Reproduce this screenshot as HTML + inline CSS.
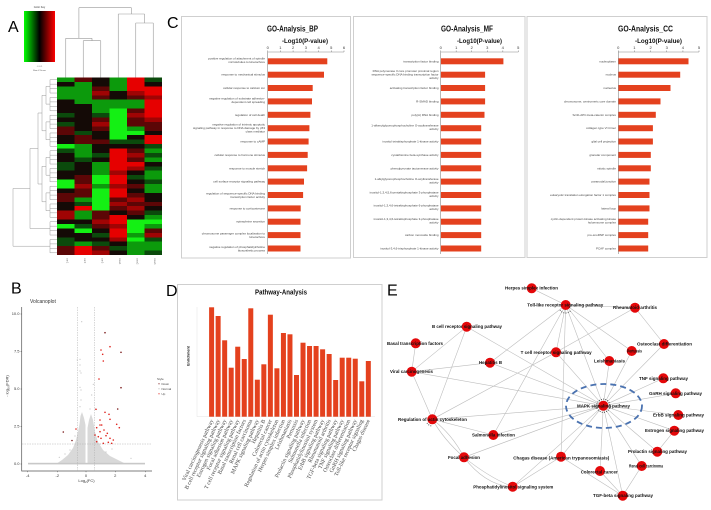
<!DOCTYPE html>
<html><head><meta charset="utf-8"><style>
html,body{margin:0;padding:0;background:#fff}
svg{display:block}
.gl{font-family:"Liberation Sans",sans-serif;font-size:3px;fill:#444;text-anchor:end}
.tk{font-family:"Liberation Sans",sans-serif;font-size:4px;fill:#333;text-anchor:middle}
.bt{font-family:"Liberation Sans",sans-serif;font-weight:bold;fill:#111;text-anchor:middle}
.big{font-family:"Liberation Sans",sans-serif;font-size:16px;fill:#000}
.nl{font-family:"Liberation Sans",sans-serif;font-weight:bold;font-size:4.4px;fill:#111}
.dl{font-family:"Liberation Serif",serif;font-size:5.7px;fill:#444;text-anchor:end}
.G{fill:#14f014}.g{fill:#0c9a0c}.d{fill:#0b4a0c}.r{fill:#5c0606}.M{fill:#a00404}.R{fill:#e60000}
</style></head><body>
<svg width="711" height="510" viewBox="0 0 711 510" xmlns="http://www.w3.org/2000/svg">
<defs>
<linearGradient id="ck" x1="0" x2="1" y1="0" y2="0"><stop offset="0" stop-color="#00ff00"/><stop offset="0.5" stop-color="#000"/><stop offset="1" stop-color="#ff0000"/></linearGradient>
<pattern id="lv" x="50" y="77.5" width="8" height="4.4375" patternUnits="userSpaceOnUse"><line x1="0" x2="8" y1="2.22" y2="2.22" stroke="#999" stroke-width="0.5"/></pattern>
</defs>
<rect width="711" height="510" fill="#fff"/>

<!-- ===== Panel A ===== -->
<text class="big" x="8" y="32">A</text>
<text x="39.5" y="8" font-family="Liberation Sans" font-size="2.6" text-anchor="middle" fill="#333">Color Key</text>
<rect x="24" y="11" width="31" height="51" fill="url(#ck)"/>
<text x="39.5" y="67" font-family="Liberation Sans" font-size="2.2" text-anchor="middle" fill="#555">-1   0   1</text>
<text x="39.5" y="71" font-family="Liberation Sans" font-size="2.2" text-anchor="middle" fill="#555">Row Z-Score</text>
<path d="M65.75 77.5V38.3M83.25 77.5V40.7M100.75 77.5V40.7M83.25 40.7H100.75M92 40.7V38.3M65.75 38.3H92M78.9 38.3V7.7M135.75 77.5V23M153.25 77.5V23M135.75 23H153.25M144.5 23V14M118.25 77.5V14M118.25 14H144.5M131.4 14V7.7M78.9 7.7H131.4" stroke="#999" stroke-width="0.6" fill="none"/>
<rect x="50" y="77.5" width="7" height="177.5" fill="url(#lv)"/>
<path d="M50 79.7V93M50 97.5V110.8M50 115.2V128.6M50 133V146.3M50 150.8V164.1M50 168.5V181.9M50 186.3V199.6M50 204.1V217.4M50 221.8V235.2M50 239.6V252.9M46 86.4H50M46 104.1H50M46 121.9H50M46 139.7H50M46 157.4H50M46 175.2H50M46 192.9H50M46 210.7H50M30 228.5H50M13 246.2H50M46 86.4V104.1M46 121.9V139.7M46 157.4V175.2M46 192.9V210.7M42 95.3H46M42 130.8H46M42 166.3H46M42 201.8H46M42 95.3V130.8M42 166.3V201.8M38 113H42M38 184H42M38 113V184M30 148.5H38M30 148.5V228.5M13 188.5H30M13 188.5V246.2" stroke="#999" stroke-width="0.5" fill="none"/>
<rect x="57" y="77.5" width="105" height="177.5" fill="#140a06"/>
<g transform="translate(57,77.5) scale(17.5,4.4375)" shape-rendering="crispEdges">
<g>
<rect class="g" x="0" y="0" width="1" height="1"/><rect class="g" x="0" y="2" width="1" height="3"/><rect class="d" x="0" y="8" width="1" height="1"/><rect class="d" x="0" y="10" width="1" height="1"/><rect class="r" x="0" y="11" width="1" height="2"/><rect class="G" x="0" y="15" width="1" height="1"/><rect class="d" x="0" y="16" width="1" height="1"/><rect class="d" x="0" y="19" width="1" height="2"/><rect class="G" x="0" y="23" width="1" height="2"/><rect class="r" x="0" y="26" width="1" height="2"/><rect class="M" x="0" y="30" width="1" height="2"/><rect class="G" x="0" y="33" width="1" height="1"/><rect class="d" x="0" y="36" width="1" height="2"/><rect class="r" x="0" y="38" width="1" height="2"/>
</g>
<g transform="translate(1,0)">
<rect class="r" x="0" y="0" width="1" height="1"/><rect class="g" x="0" y="1" width="1" height="5"/><rect class="d" x="0" y="12" width="1" height="1"/><rect class="r" x="0" y="13" width="1" height="2"/><rect class="g" x="0" y="15" width="1" height="3"/><rect class="d" x="0" y="18" width="1" height="1"/><rect class="r" x="0" y="22" width="1" height="2"/><rect class="M" x="0" y="24" width="1" height="1"/><rect class="r" x="0" y="25" width="1" height="2"/><rect class="g" x="0" y="27" width="1" height="1"/><rect class="d" x="0" y="28" width="1" height="1"/><rect class="R" x="0" y="29" width="1" height="1"/><rect class="g" x="0" y="30" width="1" height="2"/><rect class="d" x="0" y="33" width="1" height="1"/><rect class="G" x="0" y="34" width="1" height="1"/><rect class="g" x="0" y="37" width="1" height="1"/><rect class="R" x="0" y="38" width="1" height="2"/>
</g>
<g transform="translate(2,0)">
<rect class="r" x="0" y="2" width="1" height="1"/><rect class="M" x="0" y="3" width="1" height="1"/><rect class="r" x="0" y="4" width="1" height="1"/><rect class="g" x="0" y="5" width="1" height="3"/><rect class="d" x="0" y="8" width="1" height="1"/><rect class="r" x="0" y="9" width="1" height="1"/><rect class="M" x="0" y="10" width="1" height="1"/><rect class="r" x="0" y="11" width="1" height="1"/><rect class="r" x="0" y="14" width="1" height="1"/><rect class="d" x="0" y="17" width="1" height="1"/><rect class="g" x="0" y="19" width="1" height="3"/><rect class="G" x="0" y="22" width="1" height="2"/><rect class="g" x="0" y="24" width="1" height="1"/><rect class="G" x="0" y="25" width="1" height="5"/><rect class="r" x="0" y="30" width="1" height="2"/><rect class="M" x="0" y="32" width="1" height="1"/><rect class="r" x="0" y="33" width="1" height="1"/><rect class="d" x="0" y="35" width="1" height="1"/><rect class="d" x="0" y="37" width="1" height="1"/><rect class="r" x="0" y="38" width="1" height="1"/><rect class="M" x="0" y="39" width="1" height="1"/>
</g>
<g transform="translate(3,0)">
<rect class="g" x="0" y="0" width="1" height="3"/><rect class="g" x="0" y="5" width="1" height="2"/><rect class="G" x="0" y="7" width="1" height="7"/><rect class="d" x="0" y="14" width="1" height="1"/><rect class="R" x="0" y="16" width="1" height="5"/><rect class="M" x="0" y="21" width="1" height="1"/><rect class="R" x="0" y="22" width="1" height="2"/><rect class="M" x="0" y="24" width="1" height="1"/><rect class="R" x="0" y="25" width="1" height="2"/><rect class="r" x="0" y="27" width="1" height="1"/><rect class="M" x="0" y="28" width="1" height="1"/><rect class="r" x="0" y="29" width="1" height="1"/><rect class="R" x="0" y="31" width="1" height="2"/><rect class="M" x="0" y="33" width="1" height="1"/><rect class="R" x="0" y="34" width="1" height="2"/><rect class="M" x="0" y="36" width="1" height="1"/><rect class="d" x="0" y="38" width="1" height="1"/>
</g>
<g transform="translate(4,0)">
<rect class="R" x="0" y="0" width="1" height="3"/><rect class="M" x="0" y="3" width="1" height="1"/><rect class="r" x="0" y="4" width="1" height="1"/><rect class="g" x="0" y="5" width="1" height="2"/><rect class="r" x="0" y="7" width="1" height="1"/><rect class="M" x="0" y="8" width="1" height="1"/><rect class="r" x="0" y="9" width="1" height="2"/><rect class="g" x="0" y="11" width="1" height="1"/><rect class="G" x="0" y="12" width="1" height="1"/><rect class="d" x="0" y="14" width="1" height="1"/><rect class="r" x="0" y="16" width="1" height="1"/><rect class="M" x="0" y="17" width="1" height="1"/><rect class="r" x="0" y="18" width="1" height="1"/><rect class="R" x="0" y="19" width="1" height="1"/><rect class="M" x="0" y="20" width="1" height="1"/><rect class="d" x="0" y="22" width="1" height="1"/><rect class="r" x="0" y="24" width="1" height="1"/><rect class="r" x="0" y="26" width="1" height="1"/><rect class="M" x="0" y="27" width="1" height="1"/><rect class="r" x="0" y="28" width="1" height="1"/><rect class="M" x="0" y="29" width="1" height="1"/><rect class="r" x="0" y="30" width="1" height="1"/><rect class="G" x="0" y="32" width="1" height="3"/><rect class="g" x="0" y="35" width="1" height="1"/><rect class="G" x="0" y="36" width="1" height="1"/><rect class="g" x="0" y="37" width="1" height="3"/>
</g>
<g transform="translate(5,0)">
<rect class="d" x="0" y="0" width="1" height="1"/><rect class="R" x="0" y="2" width="1" height="2"/><rect class="M" x="0" y="4" width="1" height="1"/><rect class="R" x="0" y="5" width="1" height="4"/><rect class="M" x="0" y="9" width="1" height="1"/><rect class="r" x="0" y="10" width="1" height="2"/><rect class="R" x="0" y="13" width="1" height="2"/><rect class="d" x="0" y="15" width="1" height="1"/><rect class="g" x="0" y="16" width="1" height="1"/><rect class="d" x="0" y="17" width="1" height="1"/><rect class="g" x="0" y="18" width="1" height="1"/><rect class="d" x="0" y="20" width="1" height="1"/><rect class="g" x="0" y="21" width="1" height="2"/><rect class="d" x="0" y="23" width="1" height="1"/><rect class="g" x="0" y="24" width="1" height="2"/><rect class="r" x="0" y="28" width="1" height="1"/><rect class="d" x="0" y="30" width="1" height="1"/><rect class="g" x="0" y="31" width="1" height="1"/><rect class="G" x="0" y="32" width="1" height="1"/><rect class="g" x="0" y="33" width="1" height="1"/><rect class="r" x="0" y="34" width="1" height="1"/><rect class="M" x="0" y="35" width="1" height="1"/><rect class="d" x="0" y="36" width="1" height="1"/><rect class="g" x="0" y="37" width="1" height="2"/><rect class="d" x="0" y="39" width="1" height="1"/>
</g>
</g>
<g font-family="Liberation Sans" font-size="2.4" fill="#777">
<text transform="translate(66.5,258) rotate(90)">con1</text>
<text transform="translate(84,258) rotate(90)">con2</text>
<text transform="translate(101.5,258) rotate(90)">con3</text>
<text transform="translate(119,258) rotate(90)">case1</text>
<text transform="translate(136.5,258) rotate(90)">case2</text>
<text transform="translate(154,258) rotate(90)">case3</text>
</g>

<!-- ===== Panel C ===== -->
<text class="big" x="167" y="28">C</text>
<rect x="181.5" y="16.5" width="169" height="241.5" fill="none" stroke="#cfcfcf" stroke-width="1"/>
<rect x="353.5" y="16.5" width="171.5" height="241" fill="none" stroke="#cfcfcf" stroke-width="1"/>
<rect x="527" y="16.5" width="180" height="241" fill="none" stroke="#cfcfcf" stroke-width="1"/>

<text class="bt" x="292.5" y="31.5" font-size="8.5" textLength="51" lengthAdjust="spacingAndGlyphs">GO-Analysis_BP</text>
<text class="bt" x="305" y="42.8" font-size="6" textLength="46" lengthAdjust="spacingAndGlyphs">-Log10(P-value)</text>
<g class="tk"><text x="267.7" y="49">0</text><text x="280.4" y="49">1</text><text x="293.1" y="49">2</text><text x="305.9" y="49">3</text><text x="318.6" y="49">4</text><text x="331.3" y="49">5</text><text x="344" y="49">6</text></g>
<path d="M267.7 52H344M267.7 52V50.5M280.4 52V50.5M293.1 52V50.5M305.9 52V50.5M318.6 52V50.5M331.3 52V50.5M344 52V50.5M267.7 52V254" stroke="#888" stroke-width="0.6" fill="none"/>
<g fill="#e4411e">
<rect x="267.9" y="58.3" width="59.4" height="6"/><rect x="267.9" y="71.7" width="56.1" height="6"/><rect x="267.9" y="85" width="44.8" height="6"/><rect x="267.9" y="98.4" width="44.1" height="6"/><rect x="267.9" y="111.8" width="42.5" height="6"/><rect x="267.9" y="125.2" width="41.5" height="6"/><rect x="267.9" y="138.5" width="40.7" height="6"/><rect x="267.9" y="151.9" width="39.8" height="6"/><rect x="267.9" y="165.3" width="39.2" height="6"/><rect x="267.9" y="178.6" width="36.1" height="6"/><rect x="267.9" y="192" width="35.2" height="6"/><rect x="267.9" y="205.4" width="32.8" height="6"/><rect x="267.9" y="218.7" width="32.6" height="6"/><rect x="267.9" y="232.1" width="32.6" height="6"/><rect x="267.9" y="245.5" width="32.6" height="6"/>
</g>
<g class="gl">
<text x="265" y="59.6">positive regulation of attachment of spindle<tspan x="265" dy="3.5">microtubules to kinetochore</tspan></text>
<text x="265" y="75.7">response to mechanical stimulus</text>
<text x="265" y="89">cellular response to calcium ion</text>
<text x="265" y="99.7">negative regulation of substrate adhesion-<tspan x="265" dy="3.5">dependent cell spreading</tspan></text>
<text x="265" y="115.8">regulation of cell death</text>
<text x="265" y="125.7">negative regulation of intrinsic apoptotic<tspan x="265" dy="3.5">signaling pathway in response to DNA damage by p53</tspan><tspan x="265" dy="3.5">class mediator</tspan></text>
<text x="265" y="142.5">response to cAMP</text>
<text x="265" y="155.9">cellular response to hormone stimulus</text>
<text x="265" y="169.3">response to muscle stretch</text>
<text x="265" y="182.6">cell surface receptor signaling pathway</text>
<text x="265" y="194.3">regulation of sequence-specific DNA binding<tspan x="265" dy="3.5">transcription factor activity</tspan></text>
<text x="265" y="209.4">response to corticosterone</text>
<text x="265" y="222.7">epinephrine secretion</text>
<text x="265" y="234.4">chromosome passenger complex localization to<tspan x="265" dy="3.5">kinetochore</tspan></text>
<text x="265" y="247.8">negative regulation of phosphatidylcholine<tspan x="265" dy="3.5">biosynthetic process</tspan></text>
</g>

<text class="bt" x="467" y="31.5" font-size="8.5" textLength="52" lengthAdjust="spacingAndGlyphs">GO-Analysis_MF</text>
<text class="bt" x="479.5" y="42.8" font-size="6" textLength="45" lengthAdjust="spacingAndGlyphs">-Log10(P-value)</text>
<g class="tk"><text x="440.7" y="49">0</text><text x="456.2" y="49">1</text><text x="471.7" y="49">2</text><text x="487.3" y="49">3</text><text x="502.8" y="49">4</text><text x="518.3" y="49">5</text></g>
<path d="M440.7 52H518.3M440.7 52V50.5M456.2 52V50.5M471.7 52V50.5M487.3 52V50.5M502.8 52V50.5M518.3 52V50.5M440.7 52V254" stroke="#888" stroke-width="0.6" fill="none"/>
<g fill="#e4411e">
<rect x="440.9" y="58.3" width="62.5" height="6"/><rect x="440.9" y="71.7" width="44.2" height="6"/><rect x="440.9" y="85" width="44.2" height="6"/><rect x="440.9" y="98.4" width="44.2" height="6"/><rect x="440.9" y="111.8" width="43.6" height="6"/><rect x="440.9" y="125.2" width="40.3" height="6"/><rect x="440.9" y="138.5" width="40.3" height="6"/><rect x="440.9" y="151.9" width="40.3" height="6"/><rect x="440.9" y="165.3" width="40.3" height="6"/><rect x="440.9" y="178.6" width="40.3" height="6"/><rect x="440.9" y="192" width="40.3" height="6"/><rect x="440.9" y="205.4" width="40.3" height="6"/><rect x="440.9" y="218.7" width="40.3" height="6"/><rect x="440.9" y="232.1" width="40.3" height="6"/><rect x="440.9" y="245.5" width="40.3" height="6"/>
</g>
<g class="gl">
<text x="438.5" y="62.3">transcription factor binding</text>
<text x="438.5" y="72.2">RNA polymerase II core promoter proximal region<tspan x="438.5" dy="3.5">sequence-specific DNA binding transcription factor</tspan><tspan x="438.5" dy="3.5">activity</tspan></text>
<text x="438.5" y="89">activating transcription factor binding</text>
<text x="438.5" y="102.4">R-SMAD binding</text>
<text x="438.5" y="115.8">poly(A) RNA binding</text>
<text x="438.5" y="126.5">1-alkenylglycerophosphocholine O-acyltransferase<tspan x="438.5" dy="3.5">activity</tspan></text>
<text x="438.5" y="142.5">inositol tetrakisphosphate 1-kinase activity</text>
<text x="438.5" y="155.9">cystathionine beta-synthase activity</text>
<text x="438.5" y="169.3">phenylpyruvate tautomerase activity</text>
<text x="438.5" y="179.9">1-alkylglycerophosphocholine O-acyltransferase<tspan x="438.5" dy="3.5">activity</tspan></text>
<text x="438.5" y="193.3">inositol-1,3,4,5,6-pentakisphosphate 3-phosphatase<tspan x="438.5" dy="3.5">activity</tspan></text>
<text x="438.5" y="206.7">inositol-1,3,4,6-tetrakisphosphate 6-phosphatase<tspan x="438.5" dy="3.5">activity</tspan></text>
<text x="438.5" y="220">inositol-1,3,4,6-tetrakisphosphate 3-phosphatase<tspan x="438.5" dy="3.5">activity</tspan></text>
<text x="438.5" y="236.1">carbon monoxide binding</text>
<text x="438.5" y="249.5">inositol-3,4,6-trisphosphate 1-kinase activity</text>
</g>

<text class="bt" x="645.5" y="31.5" font-size="8.5" textLength="55" lengthAdjust="spacingAndGlyphs">GO-Analysis_CC</text>
<text class="bt" x="658.5" y="42.8" font-size="6" textLength="47" lengthAdjust="spacingAndGlyphs">-Log10(P-value)</text>
<g class="tk"><text x="618.3" y="49">0</text><text x="634.4" y="49">1</text><text x="650.6" y="49">2</text><text x="666.7" y="49">3</text><text x="682.9" y="49">4</text><text x="699" y="49">5</text></g>
<path d="M618.3 52H699M618.3 52V50.5M634.4 52V50.5M650.6 52V50.5M666.7 52V50.5M682.9 52V50.5M699 52V50.5M618.3 52V254" stroke="#888" stroke-width="0.6" fill="none"/>
<g fill="#e4411e">
<rect x="618.5" y="58.3" width="70" height="6"/><rect x="618.5" y="71.7" width="61.7" height="6"/><rect x="618.5" y="85" width="52" height="6"/><rect x="618.5" y="98.4" width="42" height="6"/><rect x="618.5" y="111.8" width="37.3" height="6"/><rect x="618.5" y="125.2" width="34.4" height="6"/><rect x="618.5" y="138.5" width="34.4" height="6"/><rect x="618.5" y="151.9" width="32.3" height="6"/><rect x="618.5" y="165.3" width="32.3" height="6"/><rect x="618.5" y="178.6" width="31" height="6"/><rect x="618.5" y="192" width="31" height="6"/><rect x="618.5" y="205.4" width="31" height="6"/><rect x="618.5" y="218.7" width="29.7" height="6"/><rect x="618.5" y="232.1" width="29.7" height="6"/><rect x="618.5" y="245.5" width="29.7" height="6"/>
</g>
<g class="gl">
<text x="616" y="62.3">nucleoplasm</text>
<text x="616" y="75.7">nucleus</text>
<text x="616" y="89">nucleolus</text>
<text x="616" y="102.4">chromosome, centromeric core domain</text>
<text x="616" y="115.8">Scrib-APC-beta-catenin complex</text>
<text x="616" y="129.2">collagen type VI trimer</text>
<text x="616" y="142.5">glial cell projection</text>
<text x="616" y="155.9">granular component</text>
<text x="616" y="169.3">mitotic spindle</text>
<text x="616" y="182.6">paranodal junction</text>
<text x="616" y="196">eukaryotic translation elongation factor 1 complex</text>
<text x="616" y="209.4">lateral loop</text>
<text x="616" y="220">cyclin-dependent protein kinase activating kinase<tspan x="616" dy="3.5">holoenzyme complex</tspan></text>
<text x="616" y="236.1">pre-snoRNP complex</text>
<text x="616" y="249.5">PCAF complex</text>
</g>

<!-- ===== Panel B ===== -->
<text class="big" x="11" y="293.5">B</text>
<text x="30" y="303" font-family="Liberation Sans" font-size="5" fill="#333">Volcanoplot</text>
<path d="M21.7 307V471H152" stroke="#555" stroke-width="0.7" fill="none"/>
<g class="tk" font-size="3.2" style="text-anchor:end">
<text x="19.5" y="315.2">10.0</text><text x="19.5" y="352.7">7.5</text><text x="19.5" y="390.2">5.0</text><text x="19.5" y="427.7">2.5</text><text x="19.5" y="465.2">0.0</text>
</g>
<path d="M21.7 314H20.5M21.7 351.5H20.5M21.7 389H20.5M21.7 426.5H20.5M21.7 464H20.5M27.7 471V472.2M57.3 471V472.2M86 471V472.2M115.3 471V472.2M145.3 471V472.2" stroke="#555" stroke-width="0.5"/>
<g class="tk" font-size="3.2">
<text x="27.7" y="477">-4</text><text x="57.3" y="477">-2</text><text x="86" y="477">0</text><text x="115.3" y="477">2</text><text x="145.3" y="477">4</text>
</g>
<text x="86.5" y="482" class="tk" font-size="3.6">Log<tspan font-size="2.6" dy="0.8">2</tspan><tspan dy="-0.8">(FC)</tspan></text>
<text transform="translate(8.5,386) rotate(-90)" class="tk" font-size="3.6">- log<tspan font-size="2.6" dy="0.8">10</tspan><tspan dy="-0.8">(FDR)</tspan></text>
<polygon points="56,464 62,460 68,455 73,448 76,440 78,432 79.5,424 80.5,416 82,412 84,418 85.5,425 85.5,464" fill="#d9d9d9"/>
<polygon points="87.5,464 87.5,428 89,420 91,414 93,420 95,432 98,442 103,450 110,456 118,460 126,464" fill="#d9d9d9"/>
<rect x="28" y="462.8" width="117" height="1.6" fill="#c8c8c8"/>
<g fill="#c2c2c2">
<circle cx="81.7" cy="321.7" r="0.6"/><circle cx="80" cy="359.3" r="0.6"/><circle cx="77.3" cy="360" r="0.6"/><circle cx="80" cy="365" r="0.6"/><circle cx="80" cy="371" r="0.6"/><circle cx="81" cy="373" r="0.6"/><circle cx="80" cy="387.3" r="0.6"/><circle cx="81" cy="390" r="0.6"/><circle cx="91.7" cy="395" r="0.6"/><circle cx="93.3" cy="384.3" r="0.6"/><circle cx="90" cy="409" r="0.6"/><circle cx="95.7" cy="409" r="0.6"/><circle cx="80" cy="406.7" r="0.6"/><circle cx="81" cy="400" r="0.6"/><circle cx="59.3" cy="457.3" r="0.6"/><circle cx="131" cy="458.3" r="0.6"/><circle cx="70" cy="450" r="0.6"/><circle cx="106" cy="452" r="0.6"/><circle cx="112" cy="449" r="0.6"/><circle cx="65" cy="454" r="0.6"/><circle cx="100" cy="444" r="0.6"/><circle cx="75" cy="436" r="0.6"/>
</g>
<path d="M77.3 307V471M94.3 307V471M22 444H152" stroke="#b0b0b0" stroke-width="0.5" stroke-dasharray="1.5 1"/>
<g fill="#7a1a1a">
<circle cx="105" cy="332.7" r="0.8"/><circle cx="121" cy="352.3" r="0.8"/><circle cx="121" cy="387.7" r="0.8"/><circle cx="63.3" cy="432" r="0.8"/><circle cx="72" cy="440.5" r="0.8"/><circle cx="117.7" cy="409" r="0.8"/>
</g>
<g fill="#e0201a">
<circle cx="110" cy="346.7" r="0.8"/><circle cx="101" cy="350" r="0.8"/><circle cx="102.7" cy="354.3" r="0.8"/><circle cx="103.3" cy="361" r="0.8"/><circle cx="99" cy="379" r="0.8"/><circle cx="105" cy="412.3" r="0.8"/><circle cx="109" cy="414.3" r="0.8"/><circle cx="96" cy="409.3" r="0.8"/><circle cx="100" cy="420" r="0.8"/><circle cx="110" cy="419.3" r="0.8"/><circle cx="116.7" cy="424.3" r="0.8"/><circle cx="119.3" cy="427.7" r="0.8"/><circle cx="96.7" cy="427.7" r="0.8"/><circle cx="100" cy="425" r="0.8"/><circle cx="101.7" cy="425" r="0.8"/><circle cx="95" cy="435" r="0.8"/><circle cx="98.3" cy="436.7" r="0.8"/><circle cx="101" cy="438.3" r="0.8"/><circle cx="106" cy="435.7" r="0.8"/><circle cx="110" cy="438.3" r="0.8"/><circle cx="113.3" cy="440" r="0.8"/><circle cx="96.7" cy="441.7" r="0.8"/><circle cx="103.3" cy="443.3" r="0.8"/><circle cx="108.3" cy="442.3" r="0.8"/><circle cx="111.7" cy="443.3" r="0.8"/><circle cx="100" cy="431.7" r="0.8"/><circle cx="104" cy="430" r="0.8"/><circle cx="107.3" cy="433.3" r="0.8"/><circle cx="76" cy="429" r="0.8"/>
</g>
<g font-family="Liberation Sans" font-size="3" fill="#444">
<text x="157" y="380">Style</text>
<circle cx="159" cy="383.8" r="0.6" fill="#7a1a1a"/><text x="161.5" y="385">Down</text>
<circle cx="159" cy="388.8" r="0.6" fill="#bbb"/><text x="161.5" y="390">Normal</text>
<circle cx="159" cy="393.8" r="0.6" fill="#e0201a"/><text x="161.5" y="395">Up</text>
</g>

<!-- ===== Panel D ===== -->
<text class="big" x="166" y="296">D</text>
<rect x="177.5" y="284.5" width="204.5" height="215.5" fill="none" stroke="#cfcfcf" stroke-width="1"/>
<text class="bt" x="281" y="294.5" font-size="7" textLength="52" lengthAdjust="spacingAndGlyphs">Pathway-Analysis</text>
<text transform="translate(189.5,356) rotate(-90)" class="bt" font-size="3.6">Enrichment</text>
<path d="M197 307V416.7H375" stroke="#e4e4e4" stroke-width="0.5" fill="none"/>
<g fill="#e4411e">
<rect x="209.1" y="307.3" width="5" height="109.4"/><rect x="215.63" y="316" width="5" height="100.7"/><rect x="222.16" y="340.3" width="5" height="76.4"/><rect x="228.69" y="367.7" width="5" height="49"/><rect x="235.22" y="346.7" width="5" height="70"/><rect x="241.75" y="359" width="5" height="57.7"/><rect x="248.28" y="308.3" width="5" height="108.4"/><rect x="254.81" y="379.7" width="5" height="37"/><rect x="261.34" y="364.3" width="5" height="52.4"/><rect x="267.87" y="314.7" width="5" height="102"/><rect x="274.4" y="368.3" width="5" height="48.4"/><rect x="280.93" y="333" width="5" height="83.7"/><rect x="287.46" y="334.3" width="5" height="82.4"/><rect x="293.99" y="375" width="5" height="41.7"/><rect x="300.52" y="342.7" width="5" height="74"/><rect x="307.05" y="346" width="5" height="70.7"/><rect x="313.58" y="346" width="5" height="70.7"/><rect x="320.11" y="349.3" width="5" height="67.4"/><rect x="326.64" y="354" width="5" height="62.7"/><rect x="333.17" y="380" width="5" height="36.7"/><rect x="339.7" y="357.7" width="5" height="59"/><rect x="346.23" y="357.7" width="5" height="59"/><rect x="352.76" y="358.7" width="5" height="58"/><rect x="359.29" y="381.3" width="5" height="35.4"/><rect x="365.82" y="361" width="5" height="55.7"/>
</g>
<g class="dl">
<text transform="translate(213.5,420.5) rotate(-65)">Viral carcinogenesis pathway</text>
<text transform="translate(220,420.5) rotate(-65)">B cell receptor signaling pathway</text>
<text transform="translate(226.5,420.5) rotate(-65)">Estrogen signaling pathway</text>
<text transform="translate(233,420.5) rotate(-65)">Focal adhesion pathway</text>
<text transform="translate(239.5,420.5) rotate(-65)">T cell receptor signaling pathway</text>
<text transform="translate(246,420.5) rotate(-65)">Basal transcription factors</text>
<text transform="translate(252.5,420.5) rotate(-65)">Renal cell carcinoma</text>
<text transform="translate(259,420.5) rotate(-65)">MAPK signaling pathway</text>
<text transform="translate(265.5,420.5) rotate(-65)">Hepatitis B</text>
<text transform="translate(272.1,420.5) rotate(-65)">Colorectal cancer</text>
<text transform="translate(278.6,420.5) rotate(-65)">Regulation of actin cytoskeleton</text>
<text transform="translate(285.1,420.5) rotate(-65)">Herpes simplex infection</text>
<text transform="translate(291.7,420.5) rotate(-65)">Leishmaniasis</text>
<text transform="translate(298.2,420.5) rotate(-65)">Pertussis</text>
<text transform="translate(304.7,420.5) rotate(-65)">Prolactin signaling pathway</text>
<text transform="translate(311.3,420.5) rotate(-65)">Salmonella infection</text>
<text transform="translate(317.8,420.5) rotate(-65)">Phosphatidylinositol system</text>
<text transform="translate(324.3,420.5) rotate(-65)">ErbB signaling pathway</text>
<text transform="translate(330.8,420.5) rotate(-65)">Rheumatoid arthritis</text>
<text transform="translate(337.4,420.5) rotate(-65)">TGF-beta signaling pathway</text>
<text transform="translate(343.9,420.5) rotate(-65)">TNF signaling pathway</text>
<text transform="translate(350.4,420.5) rotate(-65)">Osteoclast differentiation</text>
<text transform="translate(357,420.5) rotate(-65)">GnRH signaling pathway</text>
<text transform="translate(363.5,420.5) rotate(-65)">Toll-like receptor signaling</text>
<text transform="translate(370,420.5) rotate(-65)">Chagas disease</text>
</g>

<!-- ===== Panel E ===== -->
<text class="big" x="387" y="295.5">E</text>
<g stroke="#bdbdbd" stroke-width="0.6" fill="none">
<path d="M411.7 371.7L415.7 343.3M411.7 371.7L466.7 326.7M411.7 371.7L490 362.7M411.7 371.7L603.3 405.7M411.7 371.7L432.3 419.3M466.7 326.7L432.3 419.3M466.7 326.7L603.3 405.7M490 362.7L603.3 405.7M490 362.7L565.7 305M531.7 288.3L565.7 305M493.3 435L565.7 305M493.3 435L603.3 405.7M493.3 435L432.3 419.3M556 352.3L432.3 419.3M556 352.3L603.3 405.7M635 307.7L556 352.3M635 307.7L664 344M565.7 305L556 352.3M565.7 305L635 307.7M565.7 305L603.3 405.7M565.7 305L609.3 361M565.7 305L631.7 351M565.7 305L561 456.7M664 344L603.3 405.7M631.7 351L603.3 405.7M609.3 361L603.3 405.7M663.3 378.3L603.3 405.7M675.7 393.3L603.3 405.7M678.3 415L603.3 405.7M674.3 430.7L603.3 405.7M657.3 451.7L603.3 405.7M657.3 451.7L674.3 430.7M641.7 466L603.3 405.7M641.7 466L622.7 495.7M600 471L603.3 405.7M600 471L622.7 495.7M561 456.7L603.3 405.7M561 456.7L622.7 495.7M561 456.7L512.7 486.7M603.3 405.7L622.7 495.7M432.3 419.3L603.3 405.7M464 457.3L603.3 405.7M512.7 486.7L603.3 405.7"/>
<path d="M464 457.3Q444 440 432.3 419.3M464 457.3Q452 434 432.3 419.3M464 457.3Q490 478 512.7 486.7M464 457.3Q486 486 512.7 486.7"/>
</g>
<ellipse cx="604" cy="406" rx="38" ry="22" fill="none" stroke="#4a72b0" stroke-width="1.8" stroke-dasharray="6 4"/>
<g fill="none" stroke="#222" stroke-width="0.9" stroke-dasharray="0.8 1.4">
<circle cx="603.3" cy="405.7" r="6.6"/>
<path d="M560 310A6.5 6.5 0 0 0 571 310"/>
<path d="M427 423A6.5 6.5 0 0 0 432 426"/>
</g>
<g fill="#e4080a">
<circle cx="531.7" cy="288.3" r="5"/><circle cx="565.7" cy="305" r="5"/><circle cx="635" cy="307.7" r="5"/><circle cx="466.7" cy="326.7" r="5"/><circle cx="415.7" cy="343.3" r="5"/><circle cx="490" cy="362.7" r="5"/><circle cx="556" cy="352.3" r="5"/><circle cx="631.7" cy="351" r="5"/><circle cx="664" cy="344" r="5"/><circle cx="609.3" cy="361" r="5"/><circle cx="411.7" cy="371.7" r="5"/><circle cx="663.3" cy="378.3" r="5"/><circle cx="675.7" cy="393.3" r="5"/><circle cx="603.3" cy="405.7" r="5"/><circle cx="678.3" cy="415" r="5"/><circle cx="674.3" cy="430.7" r="5"/><circle cx="432.3" cy="419.3" r="5"/><circle cx="493.3" cy="435" r="5"/><circle cx="657.3" cy="451.7" r="5"/><circle cx="464" cy="457.3" r="5"/><circle cx="561" cy="456.7" r="5"/><circle cx="641.7" cy="466" r="5"/><circle cx="600" cy="471" r="5"/><circle cx="512.7" cy="486.7" r="5"/><circle cx="622.7" cy="495.7" r="5"/>
</g>
<g class="nl">
<text x="505" y="289.6" textLength="53" lengthAdjust="spacingAndGlyphs">Herpes simplex infection</text>
<text x="527.3" y="306.5" textLength="76" lengthAdjust="spacingAndGlyphs">Toll-like receptor signaling pathway</text>
<text x="613" y="309.2" textLength="44" lengthAdjust="spacingAndGlyphs">Rheumatoid arthritis</text>
<text x="432" y="328.2" textLength="70" lengthAdjust="spacingAndGlyphs">B cell receptor signaling pathway</text>
<text x="387" y="344.8" textLength="56" lengthAdjust="spacingAndGlyphs">Basal transcription factors</text>
<text x="479" y="364.2" textLength="23" lengthAdjust="spacingAndGlyphs">Hepatitis B</text>
<text x="520.7" y="353.8" textLength="71" lengthAdjust="spacingAndGlyphs">T cell receptor signaling pathway</text>
<text x="627" y="352.6" textLength="15" lengthAdjust="spacingAndGlyphs">Pertussis</text>
<text x="637" y="345.5" textLength="55" lengthAdjust="spacingAndGlyphs">Osteoclast differentiation</text>
<text x="594" y="362.6" textLength="31" lengthAdjust="spacingAndGlyphs">Leishmaniasis</text>
<text x="390" y="373.2" textLength="43" lengthAdjust="spacingAndGlyphs">Viral carcinogenesis</text>
<text x="639" y="379.8" textLength="49" lengthAdjust="spacingAndGlyphs">TNF signaling pathway</text>
<text x="649" y="394.8" textLength="53" lengthAdjust="spacingAndGlyphs">GnRH signaling pathway</text>
<text x="577" y="407.3" textLength="53" lengthAdjust="spacingAndGlyphs">MAPK signaling pathway</text>
<text x="653" y="416.5" textLength="51" lengthAdjust="spacingAndGlyphs">ErbB signaling pathway</text>
<text x="645" y="432.2" textLength="59" lengthAdjust="spacingAndGlyphs">Estrogen signaling pathway</text>
<text x="398" y="420.8" textLength="69" lengthAdjust="spacingAndGlyphs">Regulation of actin cytoskeleton</text>
<text x="472" y="436.5" textLength="43" lengthAdjust="spacingAndGlyphs">Salmonella infection</text>
<text x="628" y="453.2" textLength="59" lengthAdjust="spacingAndGlyphs">Prolactin signaling pathway</text>
<text x="448" y="458.8" textLength="32" lengthAdjust="spacingAndGlyphs">Focal adhesion</text>
<text x="513.3" y="459.3" textLength="96" lengthAdjust="spacingAndGlyphs">Chagas disease (American trypanosomiasis)</text>
<text x="629" y="467.5" textLength="34" lengthAdjust="spacingAndGlyphs">Renal cell carcinoma</text>
<text x="580.7" y="473.3" textLength="37" lengthAdjust="spacingAndGlyphs">Colorectal cancer</text>
<text x="473.3" y="488.5" textLength="80" lengthAdjust="spacingAndGlyphs">Phosphatidylinositol signaling system</text>
<text x="593" y="497.2" textLength="60" lengthAdjust="spacingAndGlyphs">TGF-beta signaling pathway</text>
</g>
</svg>
</body></html>
